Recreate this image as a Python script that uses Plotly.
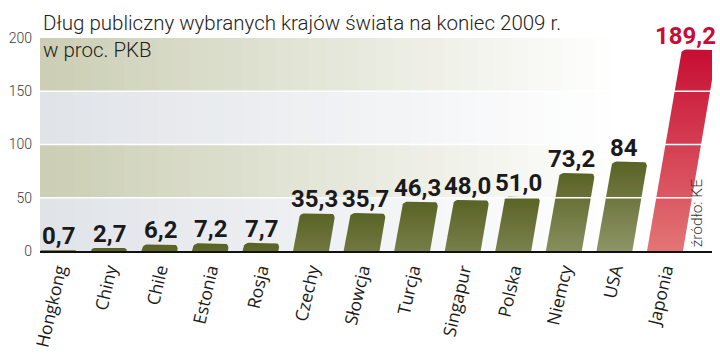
import math
import plotly.graph_objects as go

countries = ["Hongkong", "Chiny", "Chile", "Estonia", "Rosja", "Czechy", "Słowcja",
             "Turcja", "Singapur", "Polska", "Niemcy", "USA", "Japonia"]
debt = [0.7, 2.7, 6.2, 7.2, 7.7, 35.3, 35.7, 46.3, 48.0, 51.0, 73.2, 84, 189.2]
debt_labels = ["0,7", "2,7", "6,2", "7,2", "7,7", "35,3", "35,7", "46,3", "48,0",
               "51,0", "73,2", "84", "189,2"]
highlight = "Japonia"
y_ticks = [0, 50, 100, 150, 200]

title_line1 = "Dług publiczny wybranych krajów świata na koniec 2009 r."
title_line2 = "w proc. PKB"
source = "źródło: KE"

# layout geometry
W, H = 720, 355
ML, MR, MT, MB = 40, 8, 38, 104
X_RANGE = [-0.36, 12.93]
Y_RANGE = [0, 200]
plot_w = W - ML - MR
plot_h = H - MT - MB
px_per_x = plot_w / (X_RANGE[1] - X_RANGE[0])
px_per_y = plot_h / (Y_RANGE[1] - Y_RANGE[0])

BAR_W = 0.71           # in x units
SHEAR_PX = 0.17        # horizontal px per vertical px
shear = SHEAR_PX * px_per_y / px_per_x   # x units per y unit
R_PX = 5

OLIVE_DARK, OLIVE_LIGHT = "#5a6325", "#8e9567"
RED_DARK, RED_LIGHT = "#c70d33", "#e37575"

fig = go.Figure()


def bar_polygon(i, v):
    rx = R_PX / px_per_x
    ry = R_PX / px_per_y
    if v < ry:
        rx *= v / ry
        ry = v
    pts = [(-BAR_W / 2, 0), (-BAR_W / 2, v - ry)]
    n = 6
    for k in range(1, n + 1):
        a = math.pi - (math.pi / 2) * k / n
        pts.append((-BAR_W / 2 + rx + rx * math.cos(a), v - ry + ry * math.sin(a)))
    for k in range(0, n + 1):
        a = math.pi / 2 - (math.pi / 2) * k / n
        pts.append((BAR_W / 2 - rx + rx * math.cos(a), v - ry + ry * math.sin(a)))
    pts.append((BAR_W / 2, 0))
    pts.append((-BAR_W / 2, 0))
    xs = [i + u + shear * y for u, y in pts]
    ys = [y for u, y in pts]
    return xs, ys


for i, (c, v) in enumerate(zip(countries, debt)):
    xs, ys = bar_polygon(i, v)
    if c == highlight:
        grad = dict(type="vertical", start=0, stop=v,
                    colorscale=[[0, RED_LIGHT], [1, RED_DARK]])
    else:
        grad = dict(type="vertical", start=v - 85, stop=v,
                    colorscale=[[0, OLIVE_LIGHT], [1, OLIVE_DARK]])
    fig.add_trace(go.Scatter(x=xs, y=ys, mode="lines", fill="toself",
                             line=dict(width=0), fillgradient=grad,
                             hoverinfo="skip", showlegend=False))

# background bands with horizontal fade to white
shapes = []
band_colors = ["#e0e3e8", "#cbceb4", "#e0e3e8", "#cbceb4"]
N = 40
fade_end = 0.86


def mix(c, t):
    r, g, b = int(c[1:3], 16), int(c[3:5], 16), int(c[5:7], 16)
    r = round(r + (255 - r) * t)
    g = round(g + (255 - g) * t)
    b = round(b + (255 - b) * t)
    return f"rgb({r},{g},{b})"


for bi, col in enumerate(band_colors):
    y0, y1 = y_ticks[bi], y_ticks[bi + 1]
    for k in range(N):
        x0 = k / N
        x1 = (k + 1) / N
        t = min(1.0, ((x0 + x1) / 2) / fade_end)
        shapes.append(dict(type="rect", xref="paper", yref="y", x0=x0, x1=x1 + 0.002,
                           y0=y0, y1=y1, fillcolor=mix(col, t), line=dict(width=0),
                           layer="below"))

for yv in y_ticks[1:-1]:
    shapes.append(dict(type="line", xref="paper", yref="y", x0=0, x1=1, y0=yv, y1=yv,
                       line=dict(color="white", width=1.5), layer="above"))

annotations = [
    dict(text=title_line1, xref="paper", yref="paper", x=0, y=1, xanchor="left",
         yanchor="middle", xshift=1, yshift=15, showarrow=False,
         font=dict(family="Roboto, sans-serif", size=20.5, weight=300, color="#222")),
    dict(text=title_line2, xref="paper", yref="paper", x=0, y=1, xanchor="left",
         yanchor="middle", xshift=1, yshift=-12, showarrow=False,
         font=dict(family="Roboto, sans-serif", size=20.5, weight=300, color="#222")),
    dict(text=source, xref="paper", yref="y", x=0.977, y=35, xanchor="center",
         yanchor="middle", textangle=-90, showarrow=False,
         font=dict(family="Roboto, sans-serif", size=15.5, weight=300, color="#333")),
]

# value labels (annotations so they sit above the white grid lines)
for i, (c, v, lab) in enumerate(zip(countries, debt, debt_labels)):
    annotations.append(dict(
        text=lab, x=i + shear * v * 0.6, y=v, xref="x", yref="y",
        xanchor="center", yanchor="bottom", yshift=-2, showarrow=False,
        font=dict(family="Roboto, sans-serif", size=24, weight="bold",
                  color="#c70d33" if c == highlight else "#1a1a1a")))

fig.update_layout(
    width=W, height=H,
    margin=dict(l=ML, r=MR, t=MT, b=MB, pad=0, autoexpand=False),
    paper_bgcolor="white", plot_bgcolor="white",
    shapes=shapes, annotations=annotations,
    xaxis=dict(range=X_RANGE, tickvals=list(range(len(countries))), ticktext=countries,
               tickangle=-77, showgrid=False, zeroline=False, showline=True,
               linecolor="#111", linewidth=1.5, ticks="", automargin=False,
               tickfont=dict(family="Open Sans, sans-serif", size=17.5, color="#1a1a1a")),
    yaxis=dict(range=Y_RANGE, tickvals=y_ticks, showgrid=False, zeroline=False,
               showline=False, ticks="", ticklabelstandoff=7, automargin=False,
               tickfont=dict(family="Roboto, sans-serif", size=14, weight=300, color="#3a3a3a")),
)

fig.write_html("out.html", config={"displayModeBar": False},
               post_script="document.body.style.margin='0';")
